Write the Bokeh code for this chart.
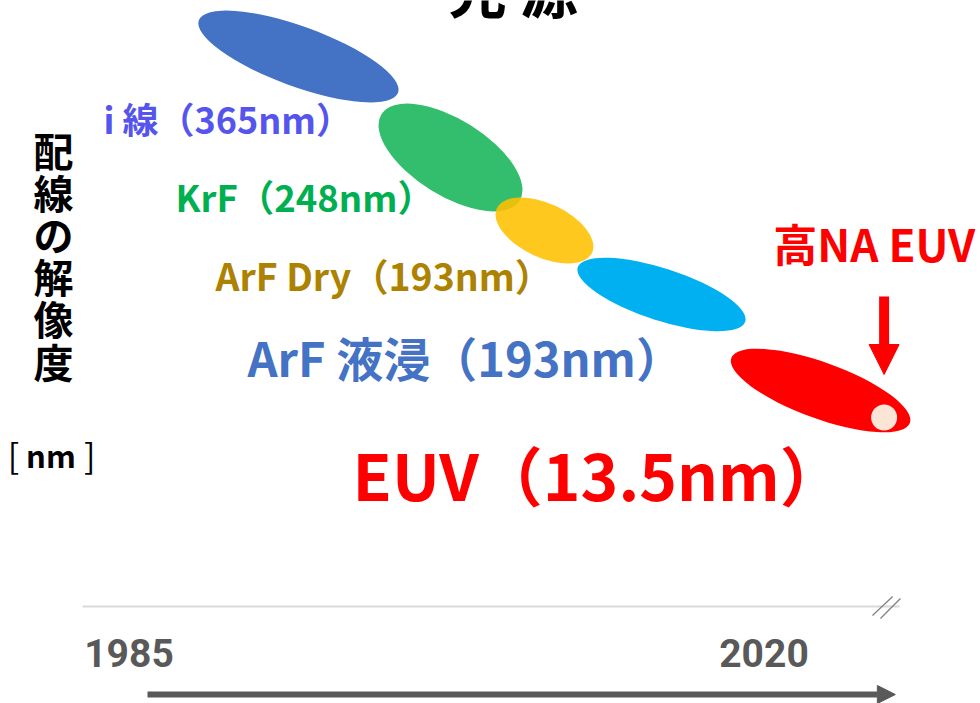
from bokeh.plotting import figure
from bokeh.models import Range1d, Arrow, NormalHead, Label
from bokeh.core.properties import value
from bokeh.embed import file_html
from bokeh.resources import INLINE

# ---------------- data ----------------
title_text = "光 源"
axis_chars = ["配", "線", "の", "解", "像", "度"]
axis_unit_parts = ["[", "nm", "]"]
year_ticks = [1985, 2020]
year_labels = ["1985", "2020"]

source_names = ["i 線（365nm）", "KrF（248nm）", "ArF Dry（193nm）", "ArF 液浸（193nm）", "EUV（13.5nm）"]
source_era = [1994.34, 2002.72, 2007.90, 2014.35, 2023.12]        # centre year of each light source
source_level = [647, 546, 473, 409, 313]                           # resolution level (higher = coarser)
source_era_span = [11.68, 8.98, 5.79, 9.70, 10.47]
source_level_span = [60, 76, 54, 52, 56]
source_tilt = [-20, -32, -25, -18, -20]

label_era = [1983.59, 1987.56, 1989.77, 1991.53, 1997.32]
label_level = [586, 507, 429, 347, 231]

high_na_name = "高NA EUV"
high_na_era = 2026.62
high_na_level = 286
high_na_label_era = 2020.51
high_na_label_level = 461

# ---------------- styles ----------------
ell_colors = ["#4472C4", "#33BE6E", "#FFC000", "#00B0F0", "#FF0000"]
ell_alpha = [1.0, 1.0, 0.88, 1.0, 1.0]
label_colors = ["#5555EE", "#00B050", "#AD8200", "#4472C4", "#FF0000"]
label_sizes = ["36px", "36.5px", "37.4px", "47px", "64px"]
JP = value("Noto Sans CJK JP")

W, H = 980, 703
k = 635.0 / 35.0  # px per year
x0 = 1985 - 128.5 / k

p = figure(width=W, height=H, x_range=Range1d(x0, x0 + W / k), y_range=Range1d(0, H),
           output_backend="svg", toolbar_location=None, min_border=0,
           x_axis_type=None, y_axis_type=None)
p.grid.visible = False
p.outline_line_color = None
p.background_fill_color = "white"
p.border_fill_color = "white"

# ellipses
for i in range(len(source_era)):
    p.ellipse(x=[source_era[i]], y=[source_level[i]], width=[source_era_span[i]],
              height=[source_level_span[i]], angle=[source_tilt[i]], angle_units="deg",
              fill_color=ell_colors[i], fill_alpha=ell_alpha[i], line_color=None)

# high-NA marker
p.ellipse(x=[high_na_era], y=[high_na_level], width=[26 / k], height=[26],
          fill_color="#FBE5D6", line_color=None)

# labels
for i in range(len(source_names)):
    p.text(x=[label_era[i]], y=[label_level[i]], text=[source_names[i]], text_font=JP,
           text_font_style="bold", text_font_size=label_sizes[i], text_color=label_colors[i],
           text_align="left", text_baseline="middle")

p.text(x=[high_na_label_era], y=[high_na_label_level], text=[high_na_name], text_font=JP,
       text_font_style="bold", text_font_size="44px", text_color="#FF0000",
       text_align="left", text_baseline="middle")

# red arrow to high NA
p.add_layout(Arrow(x_start=high_na_era, y_start=407, x_end=high_na_era, y_end=329,
                   line_color="#FF0000", line_width=10,
                   end=NormalHead(size=30, fill_color="#FF0000", line_color="#FF0000", line_width=1)))

# vertical axis title
for i, ch in enumerate(axis_chars):
    p.text(x=[1980.84], y=[554 - 42.2 * i], text=[ch], text_font=JP, text_font_style="bold",
           text_font_size="40px", text_color="#000000", text_align="center", text_baseline="middle")
unit_x = [1978.64, 1980.70, 1982.83]
unit_style = ["normal", "bold", "normal"]
unit_size = ["34px", "31px", "34px"]
for i, part in enumerate(axis_unit_parts):
    p.text(x=[unit_x[i]], y=[249], text=[part], text_font=JP, text_font_style=unit_style[i],
           text_font_size=unit_size[i], text_color="#000000", text_align="center",
           text_baseline="middle")

# title (cut at top)
p.add_layout(Label(x=2006.19, y=716, text=title_text, text_font="Noto Sans CJK JP",
                   text_font_style="bold", text_font_size="58px", text_color="#000000",
                   text_align="center", text_baseline="middle"))

# timeline
p.line(x=[1982.44, 2027.47], y=[97, 97], line_color="#D9D9D9", line_width=2)
p.line(x=[2025.98, 2027.09], y=[88, 107], line_color="#7F7F7F", line_width=1.2)
p.line(x=[2026.42, 2027.52], y=[85, 105], line_color="#7F7F7F", line_width=1.2)

p.text(x=year_ticks, y=[51, 51], text=year_labels, text_font=value("Roboto"),
       text_font_style="bold", text_font_size="39px", text_color="#595959",
       text_align="center", text_baseline="middle")

p.add_layout(Arrow(x_start=1986.02, y_start=9, x_end=2027.24, y_end=9,
                   line_color="#595959", line_width=6,
                   end=NormalHead(size=18, fill_color="#595959", line_color="#595959", line_width=1)))

open("out.html", "w").write(file_html(p, INLINE))
